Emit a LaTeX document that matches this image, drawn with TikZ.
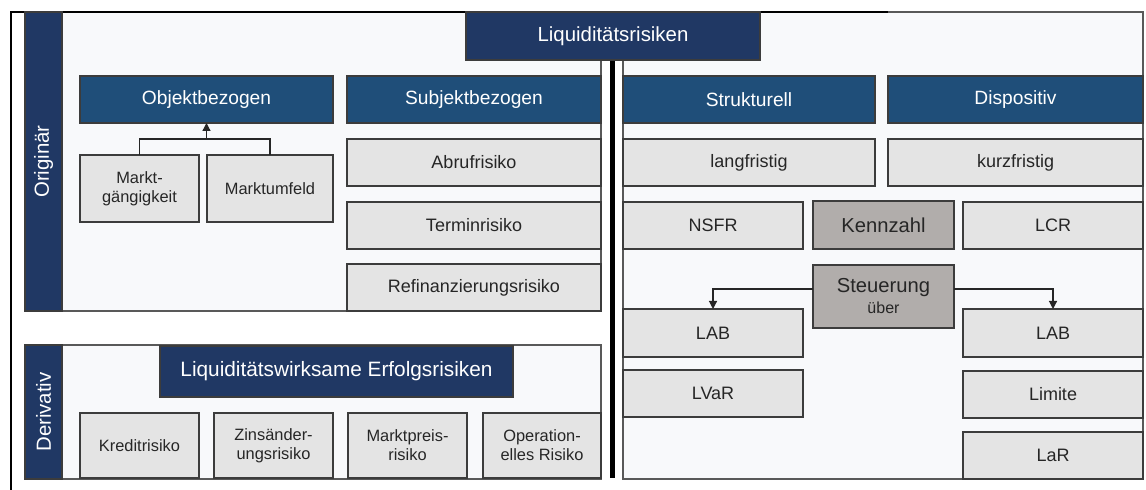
\documentclass[tikz,border=0pt]{standalone}
\usepackage{fontspec}
\setmainfont{Liberation Sans}
\usetikzlibrary{arrows.meta,positioning,calc}
\definecolor{navy}{HTML}{203864}
\definecolor{stahlblau}{HTML}{1F4E79}
\definecolor{kastengrau}{HTML}{E4E4E4}
\definecolor{kenngrau}{HTML}{B1ADAB}
\definecolor{flaeche}{HTML}{F8F9FB}
\definecolor{rand}{HTML}{3C3C3C}
\tikzset{every picture/.style={line width=0.6pt}}
\tikzset{
  gr/.style 2 args={minimum width=#1*0.5pt, minimum height=#2*0.5pt, inner sep=0pt, outer sep=0pt, anchor=north west},
  panel/.style={draw=black!65, fill=flaeche},
  seite/.style={draw=rand, fill=navy, text=white, rotate=90, inner sep=0pt, font=\fontsize{10.2}{12}\selectfont},
  titel/.style={draw=rand, fill=navy, text=white, font=\fontsize{10.2}{12}\selectfont},
  kopf/.style={draw=rand, fill=stahlblau, text=white, font=\fontsize{9.6}{11}\selectfont},
  kasten/.style={draw=rand, fill=kastengrau, text=black!85, align=center, font=\fontsize{9}{10.5}\selectfont},
  klein/.style={kasten, font=\fontsize{8.2}{9.5}\selectfont},
  kenn/.style={draw=rand, fill=kenngrau, text=black!85, align=center, font=\fontsize{10.1}{10.5}\selectfont},
  pfeil/.style={-{Triangle[width=4pt,length=4pt]}, draw=black!85}
}
\begin{document}
\begin{tikzpicture}[x=0.5pt,y=-0.5pt]
    \useasboundingbox (0,0) rectangle (1146,490);

    % Flächen
    \draw[panel] (62,12) rectangle (601,311);
    \draw[panel] (62,345) rectangle (601,479);
    \draw[panel] (623,12) rectangle (1143,479);

    % Rahmen und Trennlinie
    \draw[black, line width=1.2pt] (11,490) -- (11,12) -- (888,12);
    \draw[black, line width=2.2pt] (612.3,60) -- (612.3,478);

    % Seitenbalken
    \node[seite, minimum width=299*0.5pt, minimum height=37*0.5pt] (orig) at (43.5,161.5) {Originär};
    \node[seite, minimum width=134*0.5pt, minimum height=37*0.5pt] (deriv) at (43.5,412) {Derivativ};

    % Titel
    \node[titel, gr={294}{48}] (liq) at (466,12) {Liquiditätsrisiken};

    % Originär, links
    \node[kopf, gr={253}{47}] (objekt) at (80,76) {Objektbezogen};
    \node[kopf, gr={254}{47}] (subjekt) at (347,76) {Subjektbezogen};
    \node[klein, gr={119}{67}] (mg) at (80,155) {Markt-\\gängigkeit};
    \node[klein, gr={126}{67}] (mu) at (207,155) {Marktumfeld};
    \node[kasten, gr={254}{47}] (abruf) at (347,139) {Abrufrisiko};
    \node[kasten, gr={254}{47}] (termin) at (347,202) {Terminrisiko};
    \node[kasten, gr={254}{47}] (refi) at (347,264) {Refinanzierungsrisiko};

    \coordinate (mj) at ($(objekt.south)+(0,16)$);
    \draw[draw=black!85] (mg.north) |- (mj) -| (mu.north);
    \draw[pfeil] (mj) -- (objekt.south);

    % Derivativ
    \node[titel, gr={353}{51}, font=\fontsize{10.4}{12}\selectfont] (lwe) at (160,346) {Liquiditätswirksame Erfolgsrisiken};
    \node[klein, gr={119}{65}] (kredit) at (80,413) {Kreditrisiko};
    \node[klein, gr={119}{65}] (zins) at (214,413) {Zinsänder-\\ungsrisiko};
    \node[klein, gr={119}{65}] (mpr) at (348,413) {Marktpreis-\\risiko};
    \node[klein, gr={118}{65}] (oprisk) at (483,413) {Operation-\\elles Risiko};

    % rechte Seite
    \node[kopf, gr={252}{47}] (strukt) at (623,76) {Strukturell};
    \node[kopf, gr={255}{47}] (dispo) at (888,76) {Dispositiv};
    \node[kasten, gr={252}{47}] (lang) at (623,139) {langfristig};
    \node[kasten, gr={255}{47}] (kurz) at (888,139) {kurzfristig};
    \node[kasten, gr={180}{47}] (nsfr) at (623,202) {NSFR};
    \node[kenn, gr={141}{48}] (kennz) at (813,201) {Kennzahl};
    \node[kasten, gr={180}{47}] (lcr) at (963,202) {LCR};
    \node[kenn, gr={141}{63}] (steu) at (813,265) {Steuerung\\{\fontsize{8}{10.5}\selectfont über}};
    \node[kasten, gr={180}{48}] (labl) at (623,309) {LAB};
    \node[kasten, gr={180}{47}] (lvar) at (623,370) {LVaR};
    \node[kasten, gr={180}{48}] (labr) at (963,309) {LAB};
    \node[kasten, gr={180}{47}] (limite) at (963,371) {Limite};
    \node[kasten, gr={180}{47}] (lar) at (963,432) {LaR};

    \draw[pfeil] ([yshift=3.75pt]steu.west) -| (labl.north);
    \draw[pfeil] ([yshift=3.75pt]steu.east) -| (labr.north);
\end{tikzpicture}
\end{document}
